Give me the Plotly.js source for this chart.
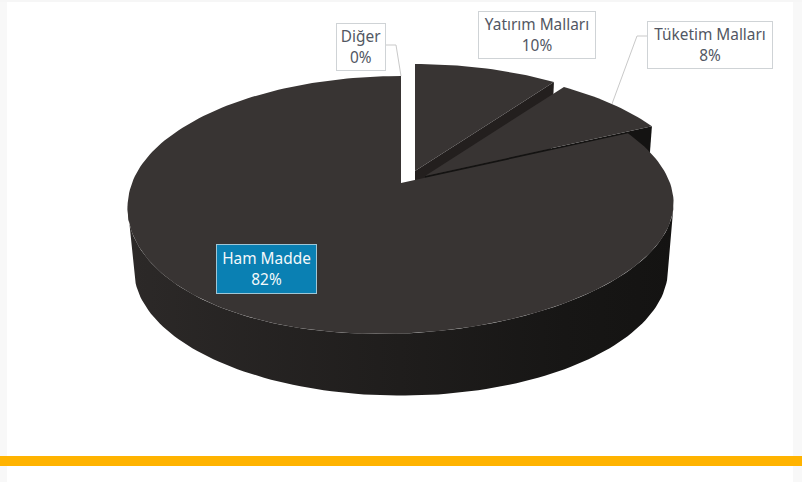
<!DOCTYPE html>
<html><head><meta charset="utf-8">
<script src="https://cdn.plot.ly/plotly-3.0.1.min.js"></script>
<style>html,body{margin:0;padding:0;background:#fff}#c{width:802px;height:482px}</style>
</head><body><div id="c"></div>
<script>
// Data, clockwise from twelve o'clock
const categories = ['Diğer','Yatırım Malları','Tüketim Malları','Ham Madde'];
const values = [0,10,8,82];
const labelText = ['Diğer<br>0%','Yatırım Malları<br>10%','Tüketim Malları<br>8%','Ham Madde<br>82%'];
// Explosion of each slice on the page, px
const explodeX = [0,14,24,0];
const explodeY = [0,-12,-7,0];
// Label boxes: centre and size, px
const boxX = [361,537,710,266.5];
const boxY = [47,35,45,269];
const boxW = [50,118,126,101];
const boxH = [48,48,48,50];

const TOP='#383433', WALL=['#000','#231f1e','#141312','#000'];
const apexX=401, apexY=183, k=0.1705, cx=269, cy=125.2;
const depth=65, lowScale=0.978, lowerLean=0.14;

function pt(theta,ox,oy,low){
  const u=Math.sin(theta), v=Math.cos(theta), w=1+k*v, s=low?lowScale:1;
  const dy=s*cy*v/w;
  const lean=(!low && dy<0)?-lowerLean*dy*dy/151:0;
  return [apexX+ox+s*cx*u/w+lean, apexY+oy+(low?depth:0)-dy];
}
function arc(a,b,ox,oy,low){
  const n=Math.max(2,Math.ceil(Math.abs(b-a)/(Math.PI/120))), r=[];
  for(let i=0;i<=n;i++) r.push(pt(a+(b-a)*i/n,ox,oy,low));
  return r;
}
function poly(points,extra){
  return Object.assign({type:'scatter',mode:'lines',x:points.map(p=>p[0]),y:points.map(p=>p[1]),
    fill:'toself',line:{width:0},hoverinfo:'skip',showlegend:false},extra);
}
const total=values.reduce((a,b)=>a+b,0);
const starts=[]; let acc=0;
values.forEach(v=>{starts.push(acc/total*2*Math.PI);acc+=v;});
const ends=starts.map((s,i)=>s+values[i]/total*2*Math.PI);

const traces=[];
// exploded slices: radial wall then top face, Yatırım first, then Tüketim
[1,2].forEach(i=>{
  const ox=explodeX[i], oy=explodeY[i];
  const a=pt(ends[i],ox,oy,false), b=pt(ends[i],ox,oy,true);
  const c0=[apexX+ox,apexY+oy], c1=[apexX+ox,apexY+oy+depth];
  traces.push(poly([c0,a,b,c1,c0],{fillcolor:WALL[i]}));
  traces.push(poly([c0].concat(arc(starts[i],ends[i],ox,oy,false),[c0]),{fillcolor:TOP}));
});
// main slice: outer wall with horizontal gradient, then top face
const mainI=3;
const f0=100*Math.PI/180, f1=260*Math.PI/180;
traces.push(poly(arc(f0,f1,0,0,false).concat(arc(f1,f0,0,0,true)),{
  fillgradient:{type:'horizontal',colorscale:[[0,'#2c2928'],[0.5,'#1f1d1c'],[0.8,'#171615'],[1,'#141312']]}
}));
const c=[apexX,apexY];
traces.push(poly([c].concat(arc(starts[mainI],ends[mainI],0,0,false),[c]),{fillcolor:TOP}));

// leader lines, ending on the rim at each slice's mid angle
const midPt=i=>pt((starts[i]+ends[i])/2,explodeX[i],explodeY[i],false);
const leaderStyle={type:'scatter',mode:'lines',line:{color:'#c9c9c9',width:1},hoverinfo:'skip',showlegend:false};
const d=midPt(0), t=midPt(2);
traces.push(Object.assign({x:[boxX[0]+boxW[0]/2,396,d[0]],y:[45,45,d[1]]},leaderStyle));
traces.push(Object.assign({x:[boxX[2]-boxW[2]/2,637,t[0]],y:[36,36,t[1]]},leaderStyle));

const annotations=categories.map((name,i)=>{
  const blue=i===3;
  return {xref:'x',yref:'y',x:boxX[i],y:boxY[i],xanchor:'center',yanchor:'middle',showarrow:false,
    text:labelText[i],align:'center',width:boxW[i]-2,height:boxH[i]-2,borderpad:0,borderwidth:1,
    bgcolor:blue?'#0a80b3':'#ffffff',bordercolor:blue?'#9fc6d6':'#cfd3d6',
    font:{family:'"Noto Sans", sans-serif',size:15.4,color:blue?'#f4f8fa':'#525763'}};
});
const rect=(x0,y0,x1,y1,col)=>({type:'rect',xref:'x',yref:'y',x0,y0,x1,y1,fillcolor:col,line:{width:0},layer:'below'});
const shapes=[
  rect(0,0,7,482,'#f8f8f8'),rect(793,0,802,482,'#f8f8f8'),rect(0,0,802,2,'#f6f6f6'),
  rect(0,456,802,466,'#ffb300')
];
const hidden={visible:false,fixedrange:true};
Plotly.newPlot('c',traces,{
  width:802,height:482,margin:{l:0,r:0,t:0,b:0},paper_bgcolor:'#ffffff',plot_bgcolor:'#ffffff',
  xaxis:Object.assign({range:[0,802]},hidden),
  yaxis:Object.assign({range:[482,0]},hidden),
  annotations,shapes,showlegend:false
},{displayModeBar:false,staticPlot:true});
</script></body></html>
